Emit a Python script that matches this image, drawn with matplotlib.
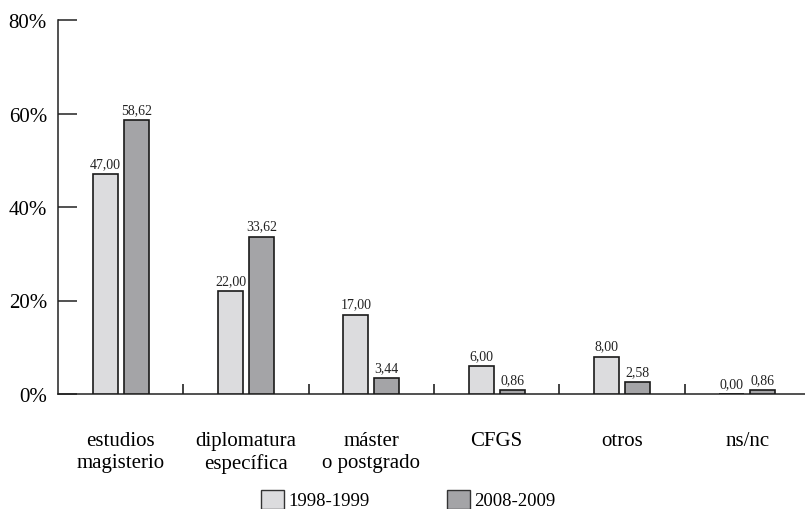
import matplotlib
matplotlib.use("Agg")
import matplotlib.pyplot as plt
from matplotlib.patches import Rectangle
import numpy as np

categories = ["estudios\nmagisterio", "diplomatura\nespecífica", "máster\no postgrado", "CFGS", "otros", "ns/nc"]
series_names = ["1998-1999", "2008-2009"]
vals_1998 = [47.00, 22.00, 17.00, 6.00, 8.00, 0.00]
vals_2008 = [58.62, 33.62, 3.44, 0.86, 2.58, 0.86]
yticks = [0, 20, 40, 60, 80]
ytick_labels = ["0%", "20%", "40%", "60%", "80%"]

colors = ["#dcdcde", "#a4a4a7"]
serif = ["Liberation Serif", "DejaVu Serif"]
plt.rcParams["font.family"] = serif

W, H = 805, 510
fig = plt.figure(figsize=(W / 100, H / 100), dpi=100)
left, right, top, bottom = 58, 810, 21, 395
ax = fig.add_axes([left / W, (H - bottom) / H, (right - left) / W, (bottom - top) / H])

n = len(categories)
centers = np.arange(n) + 0.5
width = 0.2
off = 0.124
b1 = ax.bar(centers - off, vals_1998, width, color=colors[0], edgecolor="#1a1a1a", linewidth=1.2, zorder=3)
b2 = ax.bar(centers + off, vals_2008, width, color=colors[1], edgecolor="#1a1a1a", linewidth=1.2, zorder=3)

def fmt(v):
    return f"{v:.2f}".replace(".", ",")

for bars, vals in ((b1, vals_1998), (b2, vals_2008)):
    for r, v in zip(bars, vals):
        ax.annotate(fmt(v), (r.get_x() + r.get_width() / 2, v), xytext=(0, 3),
                    textcoords="offset points", ha="center", va="bottom",
                    fontsize=10, color="#222222")

ax.set_xlim(0, 6)
ax.set_ylim(0, 80)
ax.set_yticks(yticks)
ax.set_yticklabels(ytick_labels, fontsize=15)
ax.tick_params(axis="y", direction="in", length=14, width=1.1, pad=8, color="#222222")

ax.set_xticks(np.arange(1, n))
ax.set_xticklabels([])
ax.tick_params(axis="x", which="major", direction="in", length=7, width=1.2, color="#222222")
ax.set_xticks(centers, minor=True)
ax.set_xticklabels(categories, minor=True, fontsize=15, linespacing=1.15)
ax.tick_params(axis="x", which="minor", length=0, pad=27)

for s in ("top", "right"):
    ax.spines[s].set_visible(False)
ax.spines["left"].set_linewidth(1.1)
ax.spines["bottom"].set_linewidth(1.1)
ax.spines["left"].set_color("#222222")
ax.spines["bottom"].set_color("#222222")

# legend
leg_items = [(261, colors[0], series_names[0]), (447, colors[1], series_names[1])]
for x0, c, lab in leg_items:
    fig.patches.append(Rectangle((x0 / W, 0), 23 / W, 19 / H, transform=fig.transFigure,
                                 facecolor=c, edgecolor="#333333", linewidth=1.0))
    fig.text((x0 + 27) / W, 8 / H, lab, fontsize=13.5, va="center", ha="left")

fig.savefig("out.png", dpi=100)
